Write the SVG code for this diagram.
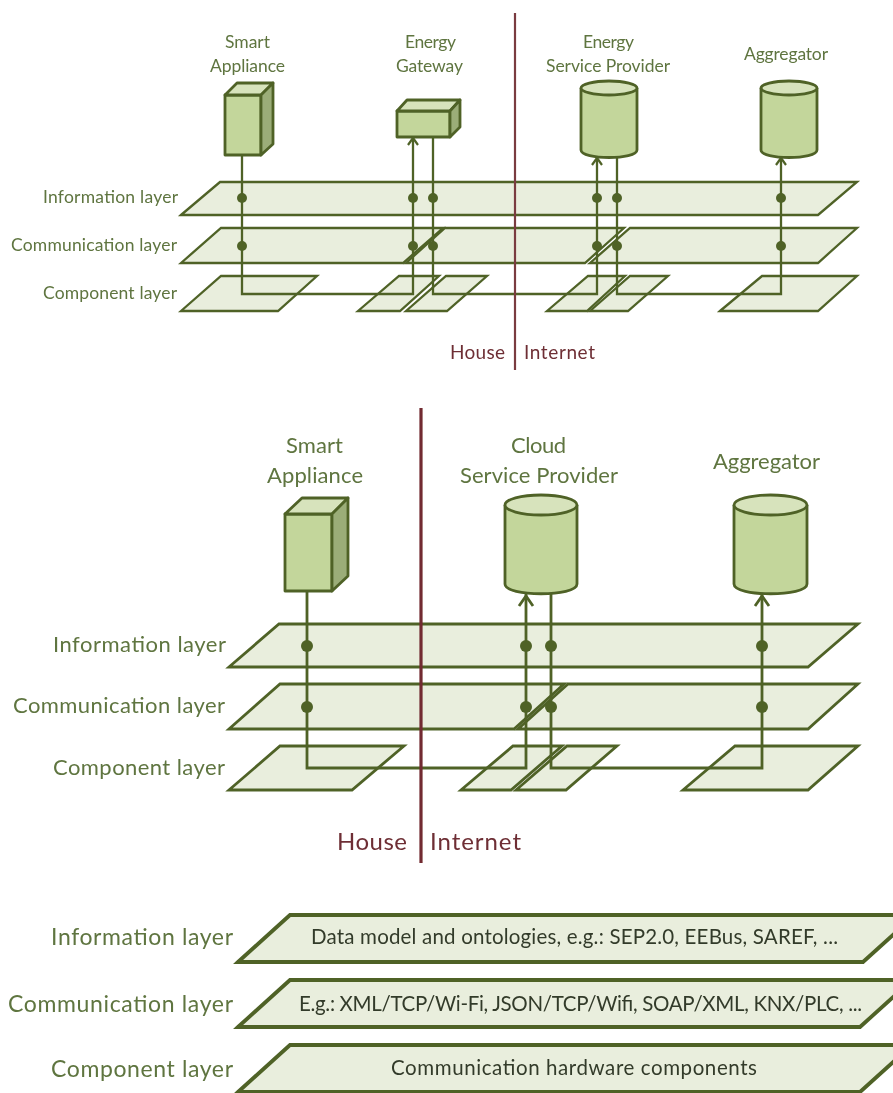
<svg xmlns="http://www.w3.org/2000/svg" width="893" height="1093" viewBox="0 0 893 1093">
<style>
text{font-family:"Lato","Liberation Sans",sans-serif;fill:#5f7540}
.s{font-size:17.500px}.m{font-size:22px}.b{font-size:23px}
.r{fill:#6e2f35}.k{fill:#333b2a;font-size:20.500px}
.l{fill:#e9eedd;stroke:#4f6228;stroke-width:2.300;stroke-linejoin:miter}
.l2{stroke-width:2.800}.l3{stroke-width:3.800}
.f{fill:#c3d69b;stroke:#4f6228;stroke-width:2.800;stroke-linejoin:round}
.t{fill:#d7e3bc;stroke:#4f6228;stroke-width:2.800;stroke-linejoin:round}
.d{fill:#9bad78;stroke:#4f6228;stroke-width:2.800;stroke-linejoin:round}
.c{fill:none;stroke:#4f6228;stroke-width:2.300}
.c2{fill:none;stroke:#4f6228;stroke-width:2.800}
.o{fill:#4f6228}
.v{stroke:#7a3b40;stroke-width:2.200}
.v2{stroke:#722b30;stroke-width:3.200}
</style>
<defs>
<filter id="soft" filterUnits="userSpaceOnUse" x="0" y="0" width="893" height="1093"><feGaussianBlur stdDeviation="0.450"/></filter>
<marker id="a1" markerUnits="userSpaceOnUse" markerWidth="14" markerHeight="14" refX="12" refY="7" orient="auto"><path d="M4,2 L11,7 L4,12" fill="none" stroke="#4f6228" stroke-width="2.200"/></marker>
<marker id="a2" markerUnits="userSpaceOnUse" markerWidth="20" markerHeight="20" refX="17" refY="10" orient="auto"><path d="M5,3 L15,10 L5,17" fill="none" stroke="#4f6228" stroke-width="2.800"/></marker>
</defs>
<g filter="url(#soft)">
<g id="top-layers">
<polygon class="l" points="181,215 220,182 857,182 818,215"/>
<polygon class="l" points="181,263 221,228 443,228 403,263"/>
<polygon class="l" points="406,263 445,228 624,228 585,263"/>
<polygon class="l" points="590,263 630,228 857,228 818,263"/>
<polygon class="l" points="181,311 221,276 317,276 278,311"/>
<polygon class="l" points="358,311 399,276 439,276 400,311"/>
<polygon class="l" points="406,311 446,276 487,276 447,311"/>
<polygon class="l" points="547,311 588,276 625,276 587,311"/>
<polygon class="l" points="590,311 630,276 668,276 628,311"/>
<polygon class="l" points="720,311 762,276 857,276 818,311"/>
</g>
<g id="top-connectors">
<path class="c" marker-end="url(#a1)" d="M242,155V294H413V137"/>
<path class="c" marker-end="url(#a1)" d="M433,137V294H597V157"/>
<path class="c" marker-end="url(#a1)" d="M617,157V294H781V157"/>
<g class="o"><circle cx="242" cy="198" r="5"/><circle cx="413" cy="198" r="5"/><circle cx="433" cy="198" r="5"/><circle cx="597" cy="198" r="5"/><circle cx="617" cy="198" r="5"/><circle cx="781" cy="198" r="5"/><circle cx="242" cy="246" r="5"/><circle cx="413" cy="246" r="5"/><circle cx="433" cy="246" r="5"/><circle cx="597" cy="246" r="5"/><circle cx="617" cy="246" r="5"/><circle cx="781" cy="246" r="5"/></g>
<line class="v" x1="515" y1="13" x2="515" y2="370"/>
</g>
<g id="top-layer-labels">
<text class="s" x="43" y="203" textLength="135">Information layer</text>
<text class="s" x="11" y="251" textLength="166">Communication layer</text>
<text class="s" x="43" y="299" textLength="134">Component layer</text>
</g>
<g id="top-smart-appliance">
<text class="s" x="225" y="48" textLength="45">Smart</text>
<text class="s" x="210" y="72" textLength="75">Appliance</text>
<polygon class="f" points="225,95 261,95 261,155 225,155"/>
<polygon class="t" points="225,95 237,83 273,83 261,95"/>
<polygon class="d" points="261,95 273,83 273,144 261,155"/>
</g>
<g id="top-energy-gateway">
<text class="s" x="405" y="48" textLength="51">Energy</text>
<text class="s" x="396" y="72" textLength="67">Gateway</text>
<polygon class="f" points="397,111 450,111 450,137 397,137"/>
<polygon class="t" points="397,111 407,100 460,100 450,111"/>
<polygon class="d" points="450,111 460,100 460,127 450,137"/>
</g>
<g id="top-energy-service-provider">
<text class="s" x="583" y="48" textLength="51">Energy</text>
<text class="s" x="546" y="72" textLength="124">Service Provider</text>
<path class="f" d="M581,88V150C581,160 637,160 637,150V88"/>
<ellipse class="t" cx="609" cy="88" rx="28" ry="7"/>
</g>
<g id="top-aggregator">
<text class="s" x="744" y="60" textLength="84">Aggregator</text>
<path class="f" d="M761,88V150C761,160 817,160 817,150V88"/>
<ellipse class="t" cx="789" cy="88" rx="28" ry="7"/>
</g>
<g id="top-boundary-labels">
<text class="r" style="font-size:19px" x="450" y="359" textLength="55">House</text>
<text class="r" style="font-size:19px" x="524" y="359" textLength="71">Internet</text>
</g>

<g id="mid-layers">
<polygon class="l l2" points="229,667 279,624 858,624 808,667"/>
<polygon class="l l2" points="229,729 280,684 564,684 514,729"/>
<polygon class="l l2" points="518,729 568,684 858,684 808,729"/>
<polygon class="l l2" points="229,790 280,746 404,746 352,790"/>
<polygon class="l l2" points="461,790 513,746 562,746 511,790"/>
<polygon class="l l2" points="516,790 567,746 617,746 566,790"/>
<polygon class="l l2" points="683,790 735,746 858,746 808,790"/>
</g>
<g id="mid-connectors">
<path class="c2" marker-end="url(#a2)" d="M307,592V768H526V594"/>
<path class="c2" marker-end="url(#a2)" d="M551,592V768H762V594"/>
<g class="o"><circle cx="307" cy="646" r="6"/><circle cx="526" cy="646" r="6"/><circle cx="551" cy="646" r="6"/><circle cx="762" cy="646" r="6"/><circle cx="307" cy="707" r="6"/><circle cx="526" cy="707" r="6"/><circle cx="551" cy="707" r="6"/><circle cx="762" cy="707" r="6"/></g>
<line class="v2" x1="421" y1="408" x2="421" y2="863"/>
</g>
<g id="mid-layer-labels">
<text class="m" x="53" y="652" textLength="173">Information layer</text>
<text class="m" x="13" y="713" textLength="212">Communication layer</text>
<text class="m" x="53" y="775" textLength="172">Component layer</text>
</g>
<g id="mid-smart-appliance">
<text class="m" x="286" y="453" textLength="57">Smart</text>
<text class="m" x="267" y="483" textLength="96">Appliance</text>
<polygon class="f" points="285,514 332,514 332,591 285,591"/>
<polygon class="t" points="285,514 302,498 348,498 332,514"/>
<polygon class="d" points="332,514 348,498 348,576 332,591"/>
</g>
<g id="mid-cloud-service-provider">
<text class="m" x="511" y="453" textLength="55">Cloud</text>
<text class="m" x="460" y="483" textLength="158">Service Provider</text>
<path class="f" d="M505,505V584C505,597 577,597 577,584V505"/>
<ellipse class="t" cx="541" cy="505" rx="36" ry="10"/>
</g>
<g id="mid-aggregator">
<text class="m" x="713" y="469" textLength="107">Aggregator</text>
<path class="f" d="M734,505V584C734,597 807,597 807,584V505"/>
<ellipse class="t" cx="770.500" cy="505" rx="36.500" ry="10"/>
</g>
<g id="mid-boundary-labels">
<text class="r" style="font-size:24px" x="337" y="850" textLength="70">House</text>
<text class="r" style="font-size:24px" x="430" y="850" textLength="91">Internet</text>
</g>

<g id="stack-information">
<polygon class="l l3" points="238,962 290,915 915,915 863,962"/>
<text class="b" x="51" y="945" textLength="182">Information layer</text>
<text class="k" x="311" y="944" textLength="527">Data model and ontologies, e.g.: SEP2.0, EEBus, SAREF, ...</text>
</g>
<g id="stack-communication">
<polygon class="l l3" points="238,1027 290,980 912,980 860,1027"/>
<text class="b" x="8" y="1012" textLength="225">Communication layer</text>
<text class="k" x="299" y="1011" textLength="563">E.g.: XML/TCP/Wi-Fi, JSON/TCP/Wifi, SOAP/XML, KNX/PLC, ...</text>
</g>
<g id="stack-component">
<polygon class="l l3" points="238,1092 290,1045 912,1045 860,1092"/>
<text class="b" x="51" y="1077" textLength="182">Component layer</text>
<text class="k" x="391" y="1075" textLength="366">Communication hardware components</text>
</g>
</g>
</svg>
